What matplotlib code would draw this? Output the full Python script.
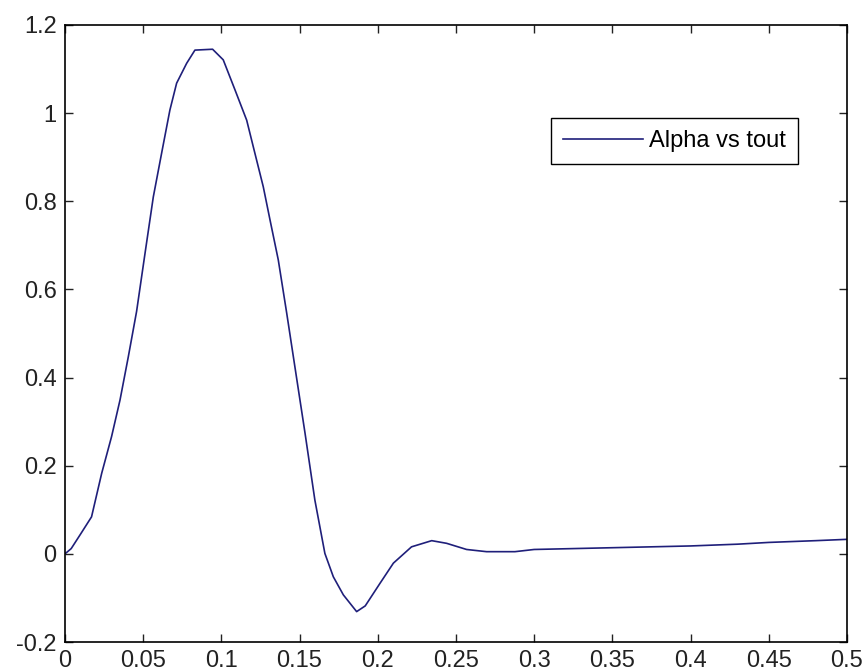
import matplotlib.pyplot as plt

# values
t = [0.0, 0.004, 0.010, 0.017, 0.0235, 0.0298, 0.0352, 0.0405, 0.0458,
     0.0512, 0.0565, 0.0618, 0.0671, 0.0714, 0.0778, 0.0831, 0.0944,
     0.1012, 0.1087, 0.1162, 0.1204, 0.1268, 0.1311, 0.1364, 0.1418,
     0.147, 0.1535, 0.1598, 0.1662, 0.1716, 0.178, 0.1865, 0.192,
     0.2014, 0.21, 0.2216, 0.2345, 0.244, 0.2568, 0.2696, 0.2877,
     0.30, 0.35, 0.40, 0.43, 0.45, 0.48, 0.50]
alpha = [0.0, 0.012, 0.045, 0.084, 0.183, 0.266, 0.349, 0.447, 0.550,
         0.682, 0.810, 0.909, 1.007, 1.068, 1.113, 1.143, 1.145,
         1.121, 1.053, 0.984, 0.924, 0.833, 0.758, 0.667, 0.546,
         0.425, 0.274, 0.122, 0.001, -0.052, -0.093, -0.131, -0.118,
         -0.067, -0.021, 0.016, 0.030, 0.024, 0.010, 0.005, 0.005,
         0.010, 0.014, 0.018, 0.022, 0.026, 0.030, 0.033]

xticks = [0, 0.05, 0.1, 0.15, 0.2, 0.25, 0.3, 0.35, 0.4, 0.45, 0.5]
xlabels = ['0', '0.05', '0.1', '0.15', '0.2', '0.25', '0.3', '0.35', '0.4', '0.45', '0.5']
yticks = [-0.2, 0, 0.2, 0.4, 0.6, 0.8, 1, 1.2]
ylabels = ['-0.2', '0', '0.2', '0.4', '0.6', '0.8', '1', '1.2']

plt.rcParams['font.family'] = ['Liberation Sans', 'DejaVu Sans']

fig = plt.figure(figsize=(8.66, 6.72), dpi=100)
ax = fig.add_axes([0.075, 0.0446, 0.903, 0.9182])

ax.plot(t, alpha, color='#1f1f7a', linewidth=1.2, label='Alpha vs tout')

ax.set_xlim(0, 0.5)
ax.set_ylim(-0.2, 1.2)
ax.set_xticks(xticks)
ax.set_xticklabels(xlabels)
ax.set_yticks(yticks)
ax.set_yticklabels(ylabels)
ax.tick_params(direction='in', top=True, right=True, length=6, width=1,
               labelsize=17, pad=6, colors='#222222')
for s in ax.spines.values():
    s.set_linewidth(1.2)

leg = ax.legend(loc='upper right', bbox_to_anchor=(0.937, 0.849),
                fontsize=17, fancybox=False, framealpha=1,
                edgecolor='black', handlelength=3.4, handletextpad=0.25,
                borderpad=0.5, borderaxespad=0)
leg.get_frame().set_linewidth(1.0)

plt.savefig('out.png', dpi=100)
